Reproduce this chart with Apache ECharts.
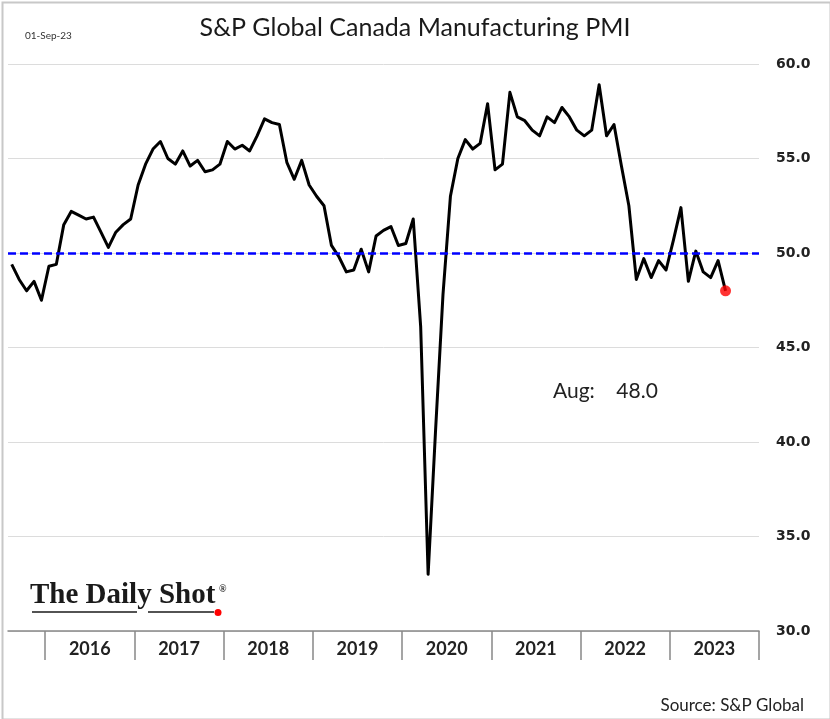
<!DOCTYPE html>
<html>
<head>
<meta charset="utf-8">
<script src="https://cdn.jsdelivr.net/npm/echarts@6/dist/echarts.min.js"></script>
<style>
html,body{margin:0;padding:0;background:#fff;}
#chart{width:830px;height:719px;}
</style>
</head>
<body>
<div id="chart"></div>
<script>
// Monthly PMI values, Aug 2015 .. Aug 2023
var startYear = 2015, startMonth = 8;
var pmi2015 = [49.4, 48.6, 48.0, 48.5, 47.5];               // Aug-Dec
var pmi2016 = [49.3, 49.4, 51.5, 52.2, 52.0, 51.8, 51.9, 51.1, 50.3, 51.1, 51.5, 51.8];
var pmi2017 = [53.6, 54.7, 55.5, 55.9, 55.0, 54.7, 55.4, 54.6, 54.9, 54.3, 54.4, 54.7];
var pmi2018 = [55.9, 55.5, 55.7, 55.4, 56.2, 57.1, 56.9, 56.8, 54.8, 53.9, 54.9, 53.6];
var pmi2019 = [53.0, 52.5, 50.4, 49.8, 49.0, 49.1, 50.2, 49.0, 50.9, 51.2, 51.4, 50.4];
var pmi2020 = [50.5, 51.8, 46.1, 33.0, 40.6, 47.8, 53.0, 55.0, 56.0, 55.5, 55.8, 57.9];
var pmi2021 = [54.4, 54.7, 58.5, 57.2, 57.0, 56.5, 56.2, 57.2, 56.9, 57.7, 57.2, 56.5];
var pmi2022 = [56.2, 56.5, 58.9, 56.2, 56.8, 54.6, 52.5, 48.6, 49.7, 48.7, 49.6, 49.1];
var pmi2023 = [50.7, 52.4, 48.5, 50.1, 49.0, 48.7, 49.6, 48.0]; // Jan-Aug
var yearLabels = ['2016', '2017', '2018', '2019', '2020', '2021', '2022', '2023'];
var yTicks = [30, 35, 40, 45, 50, 55, 60];
var threshold = 50;
var lastLabel = 'Aug:    48.0';

var values = [].concat(pmi2015, pmi2016, pmi2017, pmi2018, pmi2019, pmi2020, pmi2021, pmi2022, pmi2023);
var categories = [];
for (var i = 0; i < values.length; i++) {
  var m = startMonth - 1 + i;
  categories.push((startYear + Math.floor(m / 12)) + '-' + ('0' + (m % 12 + 1)).slice(-2));
}
// axis runs from start of Aug 2015 to end of Dec 2023 (month bins)
var firstJanIdx = 12 - (startMonth - 1);            // index of Jan 2016 bin
var axisMax = firstJanIdx + yearLabels.length * 12;  // end of Dec 2023
var lineData = values.map(function (v, i) { return [i + 0.5, v]; });
var lastIdx = values.length - 1;
var tickVals = [], labelVals = [];
for (var k = 0; k <= yearLabels.length; k++) tickVals.push(firstJanIdx + k * 12);
for (var k2 = 0; k2 < yearLabels.length; k2++) labelVals.push(firstJanIdx + k2 * 12 + 6);

var chart = echarts.init(document.getElementById('chart'), null, {renderer: 'canvas'});
var option = {
  backgroundColor: '#ffffff',
  animation: false,
  title: {
    text: 'S&P Global Canada Manufacturing PMI',
    left: 'center', top: 10,
    textStyle: {fontFamily: 'Lato', fontWeight: 'normal', fontSize: 25, color: '#1a1a1a'}
  },
  grid: {left: 8, right: 71, top: 64, bottom: 88, containLabel: false},
  xAxis: {
    type: 'value', min: 0, max: axisMax,
    axisLine: {show: true, lineStyle: {color: '#888888', width: 1.5}},
    axisTick: {show: true, customValues: tickVals, length: 29, lineStyle: {color: '#888888', width: 1.5}},
    axisLabel: {
      show: true, customValues: labelVals, margin: 9,
      fontFamily: 'Lato', fontWeight: 'bold', fontSize: 18, color: '#222',
      formatter: function (v) {
        var idx = Math.round((v - firstJanIdx - 6) / 12);
        return yearLabels[idx] || '';
      }
    },
    splitLine: {show: false}
  },
  yAxis: {
    type: 'value', position: 'right', min: yTicks[0], max: yTicks[yTicks.length - 1], interval: 5,
    axisLine: {show: false}, axisTick: {show: false},
    axisLabel: {
      margin: 17, fontFamily: 'DejaVu Sans', fontWeight: 'bold', fontSize: 14, color: '#222',
      padding: [6, 0, 0, 0],
      formatter: function (v) { return v.toFixed(1); }
    },
    splitLine: {show: true, lineStyle: {color: '#dcdcdc', width: 1}}
  },
  series: [
    {
      type: 'line', data: lineData, showSymbol: false, symbol: 'none',
      lineStyle: {color: '#000000', width: 3, join: 'round'},
      z: 3,
      markLine: {
        silent: true, symbol: 'none', label: {show: false},
        lineStyle: {color: '#0000ff', width: 2.5, type: [8, 4]},
        data: [{yAxis: threshold}]
      }
    },
    {
      type: 'scatter', data: [lineData[lastIdx]], symbolSize: 11,
      itemStyle: {color: '#ff0000'}, z: 4
    }
  ],
  graphic: [
    {type: 'rect', left: 0, top: 0, shape: {x: 1, y: 1, width: 828, height: 717},
      style: {fill: 'none', stroke: '#c8c8c8', lineWidth: 2}, silent: true},
    {type: 'text', left: 25, top: 31,
      style: {text: '01-Sep-23', font: '10px Lato', fill: '#333'}},
    {type: 'text', left: 553, top: 381,
      style: {text: lastLabel, font: '21px Lato', fill: '#222'}},
    {type: 'text', right: 26, top: 697,
      style: {text: 'Source: S&P Global', font: '17px Lato', fill: '#222'}},
    {type: 'text', left: 30, top: 581,
      style: {text: 'The Daily Shot', font: 'bold 29px "Liberation Serif"', fill: '#1a1a1a'}},
    {type: 'text', left: 219, top: 584,
      style: {text: '\u00AE', font: 'bold 10px "Liberation Serif"', fill: '#1a1a1a'}},
    {type: 'line', shape: {x1: 32, y1: 612, x2: 137, y2: 612}, style: {stroke: '#1a1a1a', lineWidth: 1.5}},
    {type: 'line', shape: {x1: 148, y1: 612, x2: 214, y2: 612}, style: {stroke: '#1a1a1a', lineWidth: 1.5}},
    {type: 'circle', shape: {cx: 218, cy: 612.5, r: 3.5}, style: {fill: '#ff0000'}}
  ]
};
chart.setOption(option);
</script>
</body>
</html>
